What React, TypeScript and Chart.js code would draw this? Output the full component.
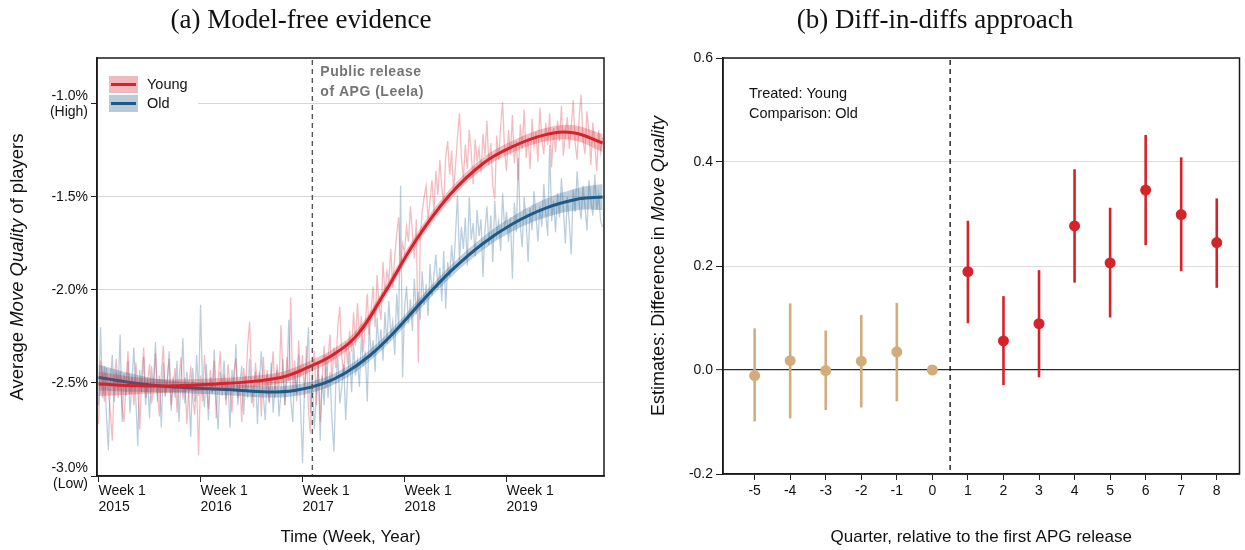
import React, { useEffect, useRef } from 'react';
import { Chart, registerables } from 'chart.js';

Chart.register(...registerables);

const SANS = '"Liberation Sans", Arial, sans-serif';
const SERIF = '"Liberation Serif", "Times New Roman", serif';

// ---------- Panel (a): weekly average move quality ----------
const yearTickWeeks = [0, 52, 104, 156, 208];
const yearLabels = ['2015', '2016', '2017', '2018', '2019'];
const leftYTicks = [-3.0, -2.5, -2.0, -1.5, -1.0];
const releaseWeek = 109;

// weekly averages, Week 1 2015 onwards
const youngWeekly = [
  -2.72, -2.38, -2.45, -2.60, -2.42, -2.55, -2.66, -2.81, -2.48, -2.37, -2.58, -2.44, -2.63,
  -2.71, -2.50, -2.33, -2.56, -2.47, -2.62, -2.39, -2.52, -2.75, -2.46, -2.31, -2.58, -2.49,
  -2.40, -2.61, -2.53, -2.34, -2.55, -2.68, -2.45, -2.30, -2.57, -2.48, -2.37, -2.62, -2.51,
  -2.42, -2.66, -2.49, -2.36, -2.59, -2.47, -2.72, -2.53, -2.41, -2.58, -2.67, -2.50, -2.89,
  -2.46, -2.60, -2.35, -2.52, -2.64, -2.43, -2.55, -2.38, -2.69, -2.48, -2.33, -2.57, -2.45,
  -2.62, -2.40, -2.51, -2.66, -2.44, -2.37, -2.58, -2.49, -2.71, -2.42, -2.54, -2.30, -2.17,
  -2.48, -2.63, -2.39, -2.52, -2.44, -2.68, -2.36, -2.55, -2.43, -2.61, -2.47, -2.33, -2.58,
  -2.40, -2.52, -2.19, -2.45, -2.62, -2.36, -2.49, -2.04, -2.55, -2.38, -2.60, -2.27, -2.47,
  -2.35, -2.58, -2.30, -2.65, -2.77, -2.44, -2.33, -2.62, -2.40, -2.71, -2.48, -2.30, -2.53,
  -2.37, -2.24, -2.50, -2.31, -2.42, -2.19, -2.09, -2.36, -2.46, -2.28, -2.40, -2.22, -2.33,
  -2.12, -2.30, -2.07, -2.25, -2.14, -2.33, -2.18, -2.02, -2.24, -2.10, -1.98, -2.20, -1.92,
  -2.08, -2.16, -1.85, -2.02, -1.90, -1.95, -1.78, -1.99, -1.82, -1.70, -1.61, -1.88, -1.75,
  -1.80, -1.66, -1.74, -1.55, -1.69, -1.83, -1.62, -2.39, -1.71, -1.58, -1.50, -1.44, -1.62,
  -1.52, -1.41, -1.58, -1.36, -1.49, -1.30, -1.45, -1.53, -1.28, -1.20, -1.38, -1.25, -1.47,
  -1.33, -1.18, -1.05, -1.29, -1.40, -1.22, -1.35, -1.14, -1.26, -1.43, -1.19, -1.31, -1.24,
  -1.37, -1.16, -1.28, -1.09, -1.33, -1.21, -1.44, -1.51, -1.17, -1.30, -1.12, -0.99, -1.25,
  -1.36, -1.14, -1.27, -1.06, -1.32, -1.20, -1.41, -1.11, -1.24, -1.03, -1.29, -1.18, -1.35,
  -1.08, -1.23, -1.15, -1.31, -1.02, -1.19, -1.27, -1.10, -1.22, -1.05, -1.34, -1.13, -1.26,
  -1.09, -1.20, -1.01, -1.28, -1.16, -1.07, -1.24, -1.12, -0.98, -1.21, -1.30, -1.08, -0.95,
  -1.19, -1.27, -1.04, -1.15, -1.33, -1.10, -1.22, -1.36, -1.14, -1.26, -1.18,
];

const oldWeekly = [
  -2.62, -2.20, -2.58, -2.41, -2.67, -2.86, -2.49, -2.35, -2.60, -2.44, -2.53, -2.24, -2.71,
  -2.45, -2.57, -2.38, -2.66, -2.50, -2.31, -2.59, -2.84, -2.43, -2.55, -2.36, -2.62, -2.48,
  -2.69, -2.41, -2.53, -2.28, -2.60, -2.46, -2.74, -2.39, -2.56, -2.51, -2.33, -2.65, -2.47,
  -2.58, -2.38, -2.71, -2.49, -2.26, -2.61, -2.44, -2.55, -2.79, -2.42, -2.60, -2.35, -2.57,
  -2.08, -2.52, -2.63, -2.40, -2.70, -2.47, -2.56, -2.32, -2.61, -2.75, -2.44, -2.53, -2.38,
  -2.59, -2.48, -2.74, -2.43, -2.55, -2.29, -2.62, -2.50, -2.41, -2.67, -2.46, -2.58, -2.37,
  -2.61, -2.52, -2.44, -2.72, -2.49, -2.33, -2.57, -2.70, -2.45, -2.60, -2.39, -2.66, -2.51,
  -2.43, -2.68, -2.55, -2.37, -2.62, -2.48, -2.16, -2.59, -2.71, -2.44, -2.56, -2.35, -2.63,
  -2.93, -2.52, -2.41, -2.20, -2.66, -2.48, -2.75, -2.57, -2.38, -2.81, -2.46, -2.62, -2.35,
  -2.58, -2.44, -2.70, -2.87, -2.49, -2.36, -2.61, -2.52, -2.40, -2.70, -2.47, -2.33, -2.55,
  -2.29, -2.46, -2.38, -2.52, -2.24, -2.41, -2.33, -2.60, -2.19, -2.36, -2.27, -2.44, -2.15,
  -2.32, -2.21, -2.38, -2.12, -2.29, -2.06, -2.24, -2.17, -2.35, -2.02, -2.20, -1.44, -2.47,
  -2.10, -1.98, -2.18, -2.05, -2.22, -1.94, -2.13, -2.01, -2.16, -1.90, -2.08, -1.97, -2.14,
  -1.86, -2.03, -1.92, -1.81, -1.99, -1.88, -2.06, -1.79, -2.10, -1.85, -1.93, -1.76, -1.89,
  -1.70, -1.49, -1.84, -1.66, -1.78, -1.61, -1.87, -1.50, -1.73, -1.64, -1.82, -1.57, -1.71,
  -1.62, -1.93, -1.68, -1.55, -1.76, -1.60, -1.85, -1.52, -1.70, -1.63, -1.79, -1.48, -1.67,
  -1.58, -1.74, -1.61, -1.94, -1.53, -1.69, -1.29, -1.65, -1.77, -1.50, -1.62, -1.85, -1.56,
  -1.68, -1.47, -1.60, -1.74, -1.55, -1.66, -1.43, -1.59, -1.71, -1.22, -1.63, -1.52, -1.69,
  -1.48, -1.61, -1.40, -1.57, -1.75, -1.50, -1.64, -1.81, -1.46, -1.58, -1.36, -1.53, -1.62,
  -1.44, -1.55, -1.68, -1.41, -1.52, -1.60, -1.38, -1.57, -1.49, -1.63, -1.66,
];

// smoothed trends with confidence half-widths
const youngSmoothWeeks = [0, 20, 40, 60, 80, 95, 107, 120, 132, 145, 162, 179, 196, 211, 228, 242, 257];
const youngSmooth = [-2.505, -2.515, -2.515, -2.505, -2.49, -2.465, -2.415, -2.345, -2.24, -2.03, -1.73, -1.49, -1.32, -1.23, -1.165, -1.155, -1.21];
const youngBandHalf = [0.065, 0.045, 0.035, 0.03, 0.03, 0.03, 0.03, 0.03, 0.03, 0.03, 0.03, 0.03, 0.03, 0.032, 0.036, 0.04, 0.048];

const oldSmoothWeeks = [0, 16, 32, 50, 68, 86, 100, 114, 126, 138, 150, 165, 180, 196, 211, 228, 245, 257];
const oldSmooth = [-2.47, -2.497, -2.516, -2.528, -2.537, -2.548, -2.54, -2.505, -2.445, -2.355, -2.235, -2.06, -1.895, -1.75, -1.645, -1.56, -1.51, -1.50];
const oldBandHalf = [0.07, 0.05, 0.035, 0.03, 0.03, 0.03, 0.03, 0.03, 0.03, 0.03, 0.03, 0.03, 0.032, 0.035, 0.04, 0.05, 0.06, 0.07];

// ---------- Panel (b): event-study estimates ----------
const quarters = [-5, -4, -3, -2, -1, 0, 1, 2, 3, 4, 5, 6, 7, 8];
const estimates = [-0.011, 0.018, -0.001, 0.017, 0.035, 0.0, 0.189, 0.056, 0.089, 0.277, 0.206, 0.346, 0.299, 0.245];
const ciLow = [-0.099, -0.093, -0.077, -0.072, -0.060, null, 0.090, -0.029, -0.014, 0.168, 0.101, 0.240, 0.190, 0.158];
const ciHigh = [0.080, 0.128, 0.076, 0.106, 0.129, null, 0.287, 0.142, 0.192, 0.386, 0.312, 0.452, 0.409, 0.330];
const rightYTicks = [-0.2, 0.0, 0.2, 0.4, 0.6];
const releaseQuarter = 0.5;

const RED = '#d5232b';
const BLUE = '#1f5a87';
const TAN = '#d2ad7b';

type Part = [string, boolean];

function drawRotatedRich(ctx: CanvasRenderingContext2D, parts: Part[], cx: number, cy: number, size: number) {
  ctx.save();
  ctx.translate(cx, cy);
  ctx.rotate(-Math.PI / 2);
  ctx.textBaseline = 'middle';
  ctx.textAlign = 'left';
  ctx.fillStyle = '#111';
  const fontFor = (it: boolean) => `${it ? 'italic ' : ''}${size}px ${SANS}`;
  let total = 0;
  for (const [t, it] of parts) {
    ctx.font = fontFor(it);
    total += ctx.measureText(t).width;
  }
  let x = -total / 2;
  for (const [t, it] of parts) {
    ctx.font = fontFor(it);
    ctx.fillText(t, x, 0);
    x += ctx.measureText(t).width;
  }
  ctx.restore();
}

function drawText(ctx: CanvasRenderingContext2D, text: string, x: number, y: number, font: string, color = '#111', align: CanvasTextAlign = 'center') {
  ctx.save();
  ctx.font = font;
  ctx.fillStyle = color;
  ctx.textAlign = align;
  ctx.textBaseline = 'middle';
  ctx.fillText(text, x, y);
  ctx.restore();
}

function drawFrame(chart: any) {
  const { ctx, chartArea: a } = chart;
  ctx.save();
  ctx.strokeStyle = '#1a1a1a';
  ctx.lineWidth = 1.5;
  ctx.strokeRect(a.left, a.top, a.right - a.left, a.bottom - a.top);
  ctx.restore();
}

function drawVDash(chart: any, px: number, color: string) {
  const { ctx, chartArea: a } = chart;
  ctx.save();
  ctx.strokeStyle = color;
  ctx.lineWidth = 1.4;
  ctx.setLineDash([5, 4]);
  ctx.beginPath();
  ctx.moveTo(px, a.top + 2);
  ctx.lineTo(px, a.bottom);
  ctx.stroke();
  ctx.restore();
}

const leftDecor = {
  id: 'leftDecor',
  afterDatasetsDraw(chart: any) {
    const { ctx, chartArea: a, scales } = chart;
    drawVDash(chart, scales.x.getPixelForValue(releaseWeek), '#555');

    // release annotation
    const rx = scales.x.getPixelForValue(releaseWeek);
    ctx.save();
    ctx.font = `bold 14px ${SANS}`;
    (ctx as any).letterSpacing = '0.5px';
    ctx.fillStyle = '#757575';
    ctx.textBaseline = 'middle';
    ctx.textAlign = 'left';
    ctx.fillText('Public release', rx + 8, a.top + 14);
    ctx.fillText('of APG (Leela)', rx + 8, a.top + 34);
    ctx.restore();

    // legend
    ctx.save();
    ctx.fillStyle = '#fff';
    ctx.fillRect(a.left + 1, a.top + 6, 100, 52);
    const items: [string, string, string, number][] = [
      ['Young', 'rgba(222,70,82,0.38)', RED, a.top + 26.5],
      ['Old', 'rgba(60,110,150,0.36)', BLUE, a.top + 45.5],
    ];
    for (const [label, band, line, cy] of items) {
      ctx.fillStyle = band;
      ctx.fillRect(a.left + 12, cy - 8.5, 29, 17);
      ctx.strokeStyle = line;
      ctx.lineWidth = 3;
      ctx.beginPath();
      ctx.moveTo(a.left + 14, cy);
      ctx.lineTo(a.left + 39, cy);
      ctx.stroke();
      drawText(ctx, label, a.left + 50, cy, `14.5px ${SANS}`, '#111', 'left');
    }
    ctx.restore();

    drawFrame(chart);
  },
  afterDraw(chart: any) {
    const { ctx, chartArea: a } = chart;
    drawText(ctx, '(a) Model-free evidence', 301, 21, `27px ${SERIF}`, '#111');
    drawRotatedRich(ctx, [['Average ', false], ['Move Quality', true], [' of players', false]], 18, (a.top + a.bottom) / 2, 18.5);
    drawText(ctx, 'Time (Week, Year)', (a.left + a.right) / 2, 537, `17px ${SANS}`, '#111');
  },
};

const rightDecor = {
  id: 'rightDecor',
  beforeDatasetsDraw(chart: any) {
    const { ctx, scales } = chart;
    drawVDash(chart, scales.x.getPixelForValue(releaseQuarter), '#1a1a1a');
    ctx.save();
    ctx.lineWidth = 2.6;
    quarters.forEach((q, i) => {
      const lo = ciLow[i];
      const hi = ciHigh[i];
      if (lo === null || hi === null) return;
      const x = scales.x.getPixelForValue(q);
      ctx.strokeStyle = q <= 0 ? TAN : RED;
      ctx.beginPath();
      ctx.moveTo(x, scales.y.getPixelForValue(lo));
      ctx.lineTo(x, scales.y.getPixelForValue(hi));
      ctx.stroke();
    });
    ctx.restore();
  },
  afterDatasetsDraw(chart: any) {
    const { ctx, chartArea: a } = chart;
    drawText(ctx, 'Treated: Young', a.left + 26, a.top + 36, `14.5px ${SANS}`, '#111', 'left');
    drawText(ctx, 'Comparison: Old', a.left + 26, a.top + 56, `14.5px ${SANS}`, '#111', 'left');
    drawFrame(chart);
  },
  afterDraw(chart: any) {
    const { ctx, chartArea: a } = chart;
    drawText(ctx, '(b) Diff-in-diffs approach', 315, 21, `27px ${SERIF}`, '#111');
    drawRotatedRich(ctx, [['Estimates: Difference in ', false], ['Move Quality', true]], 39, (a.top + a.bottom) / 2, 18);
    drawText(ctx, 'Quarter, relative to the first APG release', (a.left + a.right) / 2, 537, `17px ${SANS}`, '#111');
  },
};

function seriesPoints(xs: number[], ys: number[]) {
  return xs.map((x, i) => ({ x, y: ys[i] }));
}

function leftConfig(): any {
  const youngUpper = youngSmooth.map((v, i) => v + youngBandHalf[i]);
  const youngLower = youngSmooth.map((v, i) => v - youngBandHalf[i]);
  const oldUpper = oldSmooth.map((v, i) => v + oldBandHalf[i]);
  const oldLower = oldSmooth.map((v, i) => v - oldBandHalf[i]);
  const weeks = youngWeekly.map((_, i) => i);
  const smoothLine = { pointRadius: 0, tension: 0.4, fill: false };
  const bandLine = { pointRadius: 0, tension: 0.4, borderWidth: 0, borderColor: 'transparent' };
  return {
    type: 'line',
    data: {
      datasets: [
        { label: 'Young', data: seriesPoints(youngSmoothWeeks, youngSmooth), borderColor: RED, borderWidth: 3, order: 0, ...smoothLine },
        { label: 'Young upper', data: seriesPoints(youngSmoothWeeks, youngUpper), backgroundColor: 'rgba(218,48,60,0.32)', fill: { target: 2 }, order: 1, ...bandLine },
        { label: 'Young lower', data: seriesPoints(youngSmoothWeeks, youngLower), fill: false, order: 2, ...bandLine },
        { label: 'Old', data: seriesPoints(oldSmoothWeeks, oldSmooth), borderColor: BLUE, borderWidth: 3, order: 3, ...smoothLine },
        { label: 'Old upper', data: seriesPoints(oldSmoothWeeks, oldUpper), backgroundColor: 'rgba(40,95,140,0.3)', fill: { target: 5 }, order: 4, ...bandLine },
        { label: 'Old lower', data: seriesPoints(oldSmoothWeeks, oldLower), fill: false, order: 5, ...bandLine },
        { label: 'Young weekly', data: seriesPoints(weeks, youngWeekly), borderColor: 'rgba(222,70,82,0.36)', borderWidth: 1.3, pointRadius: 0, tension: 0, fill: false, order: 6 },
        { label: 'Old weekly', data: seriesPoints(weeks, oldWeekly), borderColor: 'rgba(55,110,155,0.34)', borderWidth: 1.3, pointRadius: 0, tension: 0, fill: false, order: 7 },
      ],
    },
    options: {
      responsive: false,
      animation: false,
      events: [],
      layout: { padding: { top: 58, right: 16, left: 0, bottom: 0 } },
      plugins: { legend: { display: false }, tooltip: { enabled: false }, title: { display: false } },
      scales: {
        x: {
          type: 'linear',
          min: -0.8,
          max: 257.7,
          afterBuildTicks: (s: any) => { s.ticks = yearTickWeeks.map((v) => ({ value: v })); },
          afterFit: (s: any) => { s.height = 74; },
          ticks: {
            align: 'start',
            autoSkip: false,
            maxRotation: 0,
            padding: 1,
            color: '#111',
            font: { family: SANS, size: 14, lineHeight: 1.15 },
            callback: (_v: any, i: number) => ['Week 1', yearLabels[i]],
          },
          grid: { drawOnChartArea: false, tickLength: 6, tickColor: '#222', tickWidth: 1 },
          border: { color: '#1a1a1a', width: 1.5 },
        },
        y: {
          type: 'linear',
          min: -3.0,
          max: -0.753,
          afterBuildTicks: (s: any) => { s.ticks = leftYTicks.map((v) => ({ value: v })); },
          afterFit: (s: any) => { s.width = 97; },
          ticks: {
            padding: 3,
            color: '#111',
            font: { family: SANS, size: 14, lineHeight: 1.15 },
            callback: (v: any) => {
              const s = Number(v).toFixed(1) + '%';
              if (v === -1) return [s, '(High)'];
              if (v === -3) return [s, '(Low)'];
              return s;
            },
          },
          grid: {
            color: (c: any) => (c.tick && c.tick.value === -3 ? 'transparent' : '#d6d6d6'),
            lineWidth: 1,
            tickLength: 6,
            tickColor: '#222',
            tickWidth: 1,
          },
          border: { color: '#1a1a1a', width: 1.5 },
        },
      },
    },
    plugins: [leftDecor],
  };
}

function rightConfig(): any {
  const pre = quarters.map((q, i) => ({ x: q, y: estimates[i] })).filter((p) => p.x <= 0);
  const post = quarters.map((q, i) => ({ x: q, y: estimates[i] })).filter((p) => p.x > 0);
  return {
    type: 'scatter',
    data: {
      datasets: [
        { label: 'Pre', data: pre, pointRadius: 5.5, pointBackgroundColor: TAN, pointBorderWidth: 0, showLine: false },
        { label: 'Post', data: post, pointRadius: 5.5, pointBackgroundColor: RED, pointBorderWidth: 0, showLine: false },
      ],
    },
    options: {
      responsive: false,
      animation: false,
      events: [],
      layout: { padding: { top: 58, right: 3, left: 0, bottom: 0 } },
      plugins: { legend: { display: false }, tooltip: { enabled: false }, title: { display: false } },
      scales: {
        x: {
          type: 'linear',
          min: -5.89,
          max: 8.64,
          afterBuildTicks: (s: any) => { s.ticks = quarters.map((v) => ({ value: v })); },
          afterFit: (s: any) => { s.height = 76; },
          ticks: {
            autoSkip: false,
            maxRotation: 0,
            padding: 3,
            color: '#111',
            font: { family: SANS, size: 14 },
            callback: (v: any) => String(v),
          },
          grid: { drawOnChartArea: false, tickLength: 6, tickColor: '#222', tickWidth: 1 },
          border: { color: '#1a1a1a', width: 1.5 },
        },
        y: {
          type: 'linear',
          min: -0.2,
          max: 0.6,
          afterBuildTicks: (s: any) => { s.ticks = rightYTicks.map((v) => ({ value: v })); },
          afterFit: (s: any) => { s.width = 103; },
          ticks: {
            padding: 3,
            color: '#111',
            font: { family: SANS, size: 14 },
            callback: (v: any) => Number(v).toFixed(1),
          },
          grid: {
            color: (c: any) => (c.tick && c.tick.value === 0 ? '#2a2a2a' : '#dcdcdc'),
            lineWidth: (c: any) => (c.tick && c.tick.value === 0 ? 1.3 : 1),
            tickLength: 7,
            tickColor: '#222',
            tickWidth: 1,
          },
          border: { color: '#1a1a1a', width: 1.5 },
        },
      },
    },
    plugins: [rightDecor],
  };
}

export default function App() {
  const leftRef = useRef<HTMLCanvasElement>(null);
  const rightRef = useRef<HTMLCanvasElement>(null);

  useEffect(() => {
    const left = new Chart(leftRef.current as HTMLCanvasElement, leftConfig());
    const right = new Chart(rightRef.current as HTMLCanvasElement, rightConfig());
    return () => {
      left.destroy();
      right.destroy();
    };
  }, []);

  return (
    <div style={{ position: 'fixed', left: 0, top: 0, width: 1245, height: 550, background: '#fff' }}>
      <canvas ref={leftRef} width={620} height={550} style={{ position: 'absolute', left: 0, top: 0 }} />
      <canvas ref={rightRef} width={625} height={550} style={{ position: 'absolute', left: 620, top: 0 }} />
    </div>
  );
}
